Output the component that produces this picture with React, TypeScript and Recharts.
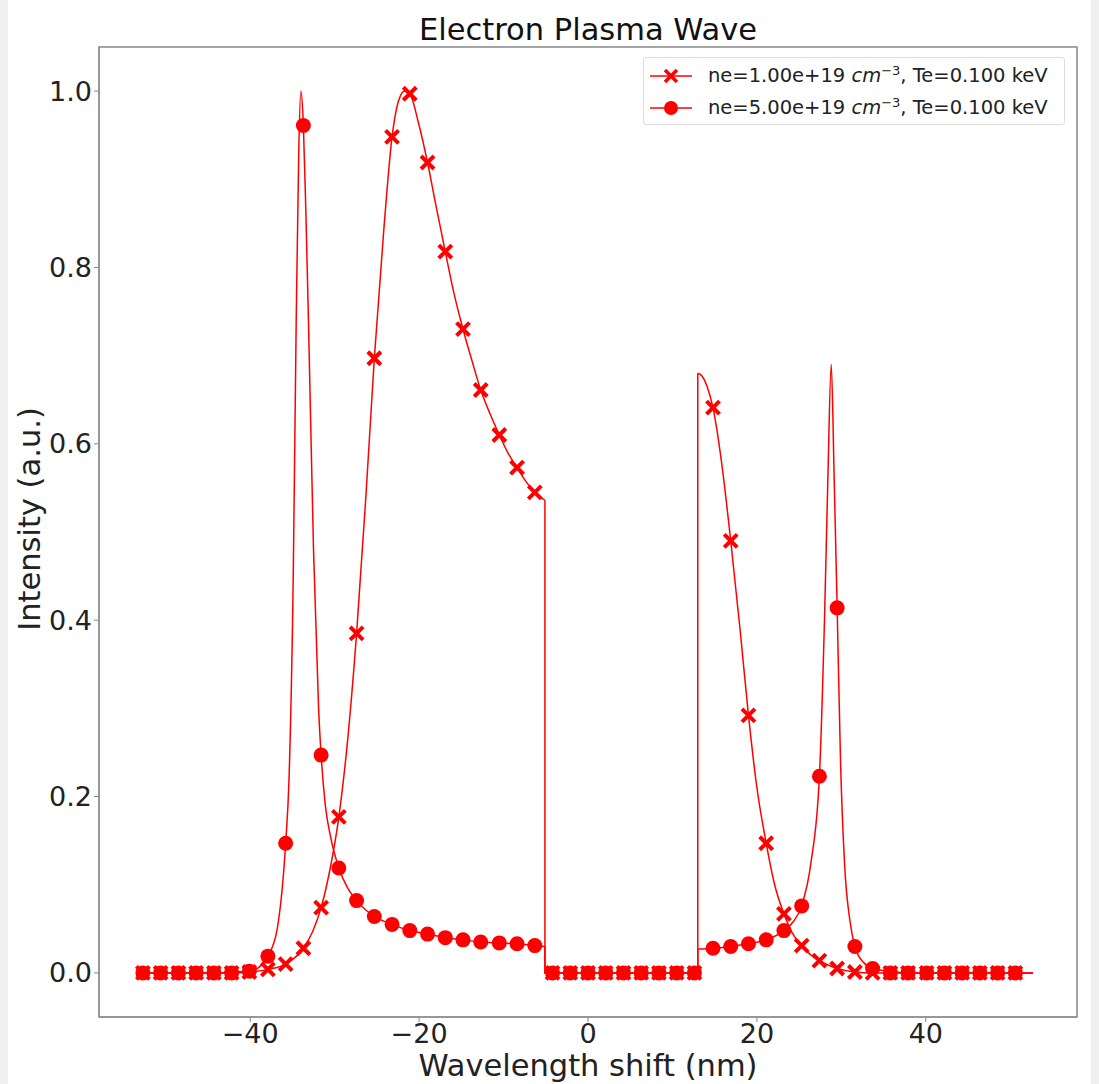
import React from 'react';
import { ComposedChart, Line, Scatter, XAxis, YAxis, ReferenceArea } from 'recharts';

// marker positions (nm), shared by both spectra
const markX = [
  -52.7, -50.6, -48.5, -46.4, -44.3, -42.2, -40.1, -37.9, -35.8, -33.7,
  -31.6, -29.5, -27.4, -25.3, -23.2, -21.1, -19.0, -16.9, -14.8, -12.7,
  -10.5, -8.4, -6.3, -4.2, -2.1, 0.0, 2.1, 4.2, 6.3, 8.4,
  10.5, 12.6, 14.8, 16.9, 19.0, 21.1, 23.2, 25.3, 27.4, 29.5,
  31.6, 33.7, 35.8, 37.9, 40.1, 42.2, 44.3, 46.4, 48.5, 50.6,
];

// ne=1.00e+19 marker values
const crossMarks = [
  0, 0, 0, 0, 0, 0, 0.001, 0.004, 0.01, 0.028,
  0.074, 0.177, 0.385, 0.697, 0.948, 0.997, 0.919, 0.818, 0.73, 0.661,
  0.61, 0.573, 0.545, 0, 0, 0, 0, 0, 0, 0,
  0, 0, 0.641, 0.49, 0.292, 0.147, 0.067, 0.031, 0.014, 0.005,
  0.001, 0, 0, 0, 0, 0, 0, 0, 0, 0,
];

// ne=5.00e+19 marker values
const dotMarks = [
  0, 0, 0, 0, 0, 0, 0.002, 0.019, 0.147, 0.961,
  0.247, 0.119, 0.082, 0.064, 0.055, 0.048, 0.044, 0.04, 0.0375, 0.035,
  0.034, 0.033, 0.031, 0, 0, 0, 0, 0, 0, 0,
  0, 0, 0.028, 0.03, 0.033, 0.0375, 0.048, 0.076, 0.223, 0.414,
  0.03, 0.005, 0, 0, 0, 0, 0, 0, 0, 0,
];

// curves [shift, intensity], split at the vertical cut-offs
const crossLeft = [
  [-52.7, 0], [-42.2, 0], [-40.1, 0.001], [-37.9, 0.004], [-35.8, 0.01], [-33.7, 0.028],
  [-32.6, 0.047], [-31.6, 0.074], [-30.6, 0.115], [-29.5, 0.177], [-28.4, 0.27],
  [-27.4, 0.385], [-26.3, 0.54], [-25.3, 0.697], [-24.2, 0.84], [-23.2, 0.948],
  [-22.4, 0.99], [-21.7, 1.0], [-21.1, 0.997], [-20.1, 0.965], [-19.0, 0.919],
  [-18.0, 0.87], [-16.9, 0.818], [-15.9, 0.772], [-14.8, 0.73], [-13.7, 0.693],
  [-12.7, 0.661], [-11.6, 0.634], [-10.5, 0.61], [-9.5, 0.59], [-8.4, 0.573],
  [-7.4, 0.558], [-6.3, 0.545], [-5.1, 0.536],
];
const crossGap = [[-5.1, 0.536], [-5.1, 0], [13.0, 0], [13.0, 0.68]];
const crossRight = [
  [13.0, 0.68], [13.5, 0.677], [14.1, 0.665], [14.8, 0.641], [15.8, 0.58], [16.9, 0.49],
  [18.0, 0.39], [19.0, 0.292], [20.0, 0.21], [21.1, 0.147], [22.1, 0.1],
  [23.2, 0.067], [24.2, 0.045], [25.3, 0.031], [26.3, 0.021], [27.4, 0.014],
  [29.5, 0.005], [31.6, 0.001], [33.7, 0], [52.7, 0],
];

const dotLeft = [
  [-52.7, 0], [-44.3, 0], [-42.2, 0.001], [-40.1, 0.002], [-39.0, 0.006],
  [-37.9, 0.019], [-36.8, 0.05], [-35.8, 0.147], [-35.4, 0.22], [-34.9, 0.45],
  [-34.55, 0.74], [-34.25, 0.93], [-34.0, 1.0], [-33.7, 0.961], [-33.4, 0.86],
  [-33.1, 0.74], [-32.5, 0.48], [-31.9, 0.3], [-31.6, 0.247], [-31.1, 0.19],
  [-30.5, 0.155], [-29.5, 0.119], [-28.5, 0.097], [-27.4, 0.082], [-25.3, 0.064],
  [-23.2, 0.055], [-21.1, 0.048], [-19.0, 0.044], [-16.9, 0.04], [-14.8, 0.0375],
  [-12.7, 0.035], [-10.5, 0.034], [-8.4, 0.033], [-6.3, 0.031], [-5.1, 0.03],
];
const dotGap = [[-5.1, 0.03], [-5.1, 0], [13.0, 0], [13.0, 0.027]];
const dotRight = [
  [13.0, 0.027], [14.8, 0.028], [16.9, 0.03], [19.0, 0.033],
  [21.1, 0.0375], [23.2, 0.048], [24.3, 0.058], [25.3, 0.076], [26.4, 0.125],
  [27.4, 0.223], [28.0, 0.4], [28.4, 0.56], [28.8, 0.69], [29.15, 0.56],
  [29.5, 0.414], [29.9, 0.24], [30.4, 0.12], [31.0, 0.06], [31.6, 0.03],
  [32.6, 0.012], [33.7, 0.005], [35.8, 0.002], [37.9, 0], [52.7, 0],
];

const xTicks = [-40, -20, 0, 20, 40];
const yTicks = [0, 0.2, 0.4, 0.6, 0.8, 1.0];

const RED = '#ff0000';
const FONT = '"DejaVu Sans", sans-serif';

const toPts = (arr: number[][]) => arr.map(([x, y]) => ({ x, y }));
const crossPts = markX.map((x, i) => ({ x, y: crossMarks[i] }));
const dotPts = markX.map((x, i) => ({ x, y: dotMarks[i] }));

const curves = [
  { key: 'cl', data: toPts(crossLeft), type: 'monotone' },
  { key: 'cg', data: toPts(crossGap), type: 'linear' },
  { key: 'cr', data: toPts(crossRight), type: 'monotone' },
  { key: 'dl', data: toPts(dotLeft), type: 'monotone' },
  { key: 'dg', data: toPts(dotGap), type: 'linear' },
  { key: 'dr', data: toPts(dotRight), type: 'monotone' },
];

const CrossShape = (props: any) => {
  const { cx, cy } = props;
  const r = 6.5;
  return (
    <path
      d={`M${cx - r},${cy - r}L${cx + r},${cy + r}M${cx - r},${cy + r}L${cx + r},${cy - r}`}
      stroke={RED}
      strokeWidth={4}
      fill="none"
    />
  );
};

const DotShape = (props: any) => {
  const { cx, cy } = props;
  return <circle cx={cx} cy={cy} r={7.5} fill={RED} />;
};

const LegendBox = () => (
  <div
    style={{
      position: 'absolute',
      left: 643,
      top: 57,
      width: 422,
      height: 68,
      boxSizing: 'border-box',
      border: '1px solid #dddddd',
      borderRadius: 3,
      background: '#fff',
      padding: '2px 0 0 6px',
      fontFamily: FONT,
      fontSize: 19.5,
      color: '#222',
      lineHeight: '32px',
    }}
  >
    {[0, 1].map((i) => (
      <div key={i} style={{ display: 'flex', alignItems: 'center', whiteSpace: 'nowrap', height: 32 }}>
        <svg width={42} height={20} style={{ marginRight: 16 }}>
          <line x1={0} y1={10} x2={42} y2={10} stroke={RED} strokeWidth={1.5} />
          {i === 0 ? (
            <path d="M15,4L27,16M15,16L27,4" stroke={RED} strokeWidth={3.5} />
          ) : (
            <circle cx={21} cy={10} r={7} fill={RED} />
          )}
        </svg>
        <span>
          {i === 0 ? 'ne=1.00e+19 ' : 'ne=5.00e+19 '}
          <i>cm</i>
          <sup style={{ fontSize: 13, verticalAlign: 7, lineHeight: 0 }}>−3</sup>, Te=0.100 keV
        </span>
      </div>
    ))}
  </div>
);

const labelStyle: React.CSSProperties = {
  position: 'absolute',
  fontFamily: FONT,
  fontSize: 30.5,
  lineHeight: '30px',
  color: '#222',
  textAlign: 'center',
  whiteSpace: 'nowrap',
};

export default function App() {
  return (
    <div style={{ position: 'absolute', left: 0, top: 0, width: 1099, height: 1084, background: '#f0f0f0', overflow: 'hidden' }}>
      <div style={{ position: 'absolute', left: 8, top: 0, width: 1083, height: 1084, background: '#ffffff' }} />
      <div style={{ ...labelStyle, left: 99, width: 978, top: 15, color: '#111' }}>Electron Plasma Wave</div>
      <div style={{ position: 'absolute', left: 8, top: 8 }}>
        <ComposedChart width={1083} height={1068} margin={{ top: 39, right: 14, left: 11, bottom: 0 }}>
          <XAxis
            type="number"
            dataKey="x"
            domain={[-57.9, 57.9]}
            ticks={xTicks}
            allowDataOverflow
            tickFormatter={(v: number) => (v < 0 ? `\u2212${Math.abs(v)}` : `${v}`)}
            tick={{ fontSize: 27, fill: '#222', fontFamily: FONT }}
            stroke="#888"
            tickSize={5}
            height={59}
          />
          <YAxis
            type="number"
            dataKey="y"
            domain={[-0.05, 1.05]}
            ticks={yTicks}
            allowDataOverflow
            tickFormatter={(v: number) => v.toFixed(1)}
            tick={{ fontSize: 27, fill: '#222', fontFamily: FONT }}
            stroke="#888"
            tickSize={5}
            width={80}
          />
          <ReferenceArea x1={-57.9} x2={57.9} y1={-0.05} y2={1.05} fill="none" stroke="#888" strokeWidth={1.5} />
          {curves.map((c) => (
            <Line
              key={c.key}
              data={c.data}
              dataKey="y"
              type={c.type as any}
              stroke={RED}
              strokeWidth={1.5}
              dot={false}
              isAnimationActive={false}
            />
          ))}
          <Scatter data={crossPts} dataKey="y" shape={<CrossShape />} isAnimationActive={false} />
          <Scatter data={dotPts} dataKey="y" shape={<DotShape />} isAnimationActive={false} />
        </ComposedChart>
      </div>
      <div style={{ ...labelStyle, left: 99, width: 978, top: 1051 }}>Wavelength shift (nm)</div>
      <div
        style={{
          ...labelStyle,
          left: 30 - 150,
          top: 519 - 15,
          width: 300,
          transform: 'rotate(-90deg)',
          transformOrigin: '150px 15px',
        }}
      >
        Intensity (a.u.)
      </div>
      <LegendBox />
    </div>
  );
}
